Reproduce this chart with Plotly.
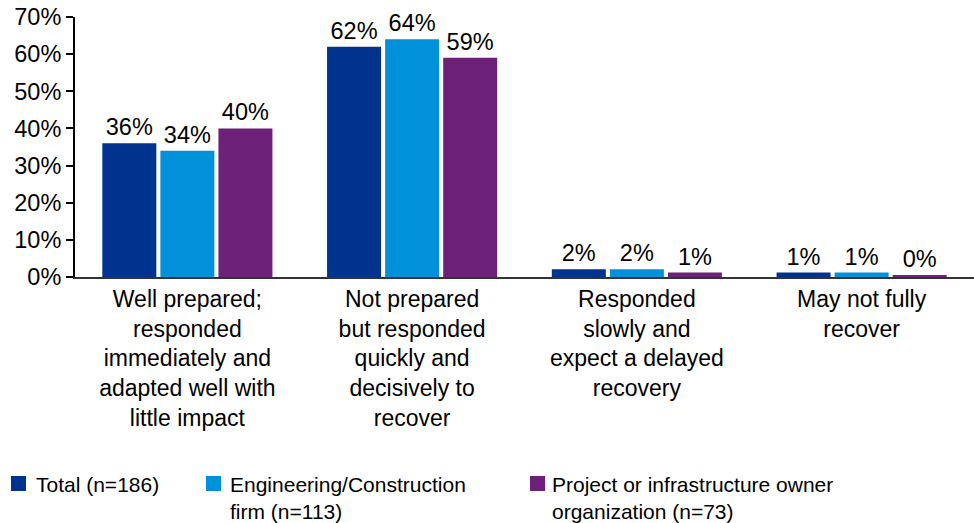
import plotly.graph_objects as go

categories = [
    "Well prepared;<br>responded<br>immediately and<br>adapted well with<br>little impact",
    "Not prepared<br>but responded<br>quickly and<br>decisively to<br>recover",
    "Responded<br>slowly and<br>expect a delayed<br>recovery",
    "May not fully<br>recover",
]
series_names = ["Total (n=186)", "Engineering/Construction<br>firm (n=113)",
                "Project or infrastructure owner<br>organization (n=73)"]
total = [36, 62, 2.1, 1.2]
engineering = [34, 64, 2.1, 1.2]
project = [40, 59, 1.2, 0.3]
colors = ["#00338D", "#0091DA", "#6D2077"]
y_ticks = [0, 10, 20, 30, 40, 50, 60, 70]

FONT = "Liberation Sans, Arial, sans-serif"
L, R, T, B = 75, 0, 17, 246
W, H = 974, 523
PW = W - L - R
PH = H - T - B

fig = go.Figure()
for name, vals, col in zip(series_names, [total, engineering, project], colors):
    fig.add_trace(go.Bar(
        x=categories, y=vals, name=name, marker=dict(color=col, line=dict(width=0)),
        text=[f"{round(v)}%" for v in vals], textposition="outside",
        textfont=dict(size=23.5, color="#000000", family=FONT),
        cliponaxis=False, showlegend=False, hoverinfo="skip",
    ))

def px2x(px):
    return (px - L) / PW

def py2y(py):
    return (T + PH - py) / PH

sq_left = [11, 206, 530]
txt_left = [35, 229, 551]
for i, (name, col) in enumerate(zip(series_names, colors)):
    fig.add_shape(type="rect", xref="paper", yref="paper",
                  x0=px2x(sq_left[i]), x1=px2x(sq_left[i] + 15),
                  y0=py2y(476), y1=py2y(491),
                  fillcolor=col, line=dict(width=0))
    fig.add_annotation(xref="paper", yref="paper", x=px2x(txt_left[i]), y=py2y(472),
                       xanchor="left", yanchor="top", align="left", showarrow=False,
                       text=name, font=dict(size=21, color="#000000", family=FONT),
                       borderpad=0)

fig.update_layout(
    width=W, height=H,
    margin=dict(l=L, r=R, t=T, b=B, pad=0, autoexpand=False),
    paper_bgcolor="white", plot_bgcolor="white",
    barmode="group", bargap=0.225, bargroupgap=0.07,
    font=dict(family=FONT, size=22, color="#000000"),
    showlegend=False,
    xaxis=dict(showline=True, linecolor="#333333", linewidth=2, ticks="",
               automargin=False,
               tickfont=dict(size=23, color="#000000"), showgrid=False),
    yaxis=dict(range=[0, 70], tickvals=y_ticks, ticktext=[f"{v}%" for v in y_ticks],
               automargin=False,
               showline=True, linecolor="#000000", linewidth=2, ticks="outside",
               ticklen=7, tickwidth=1.5, tickcolor="#000000", showgrid=False,
               zeroline=False, tickfont=dict(size=23.5, color="#000000")),
)

fig.write_html("out.html", config={"displayModeBar": False},
               post_script="document.body.style.margin='0';document.body.style.overflow='hidden';")
